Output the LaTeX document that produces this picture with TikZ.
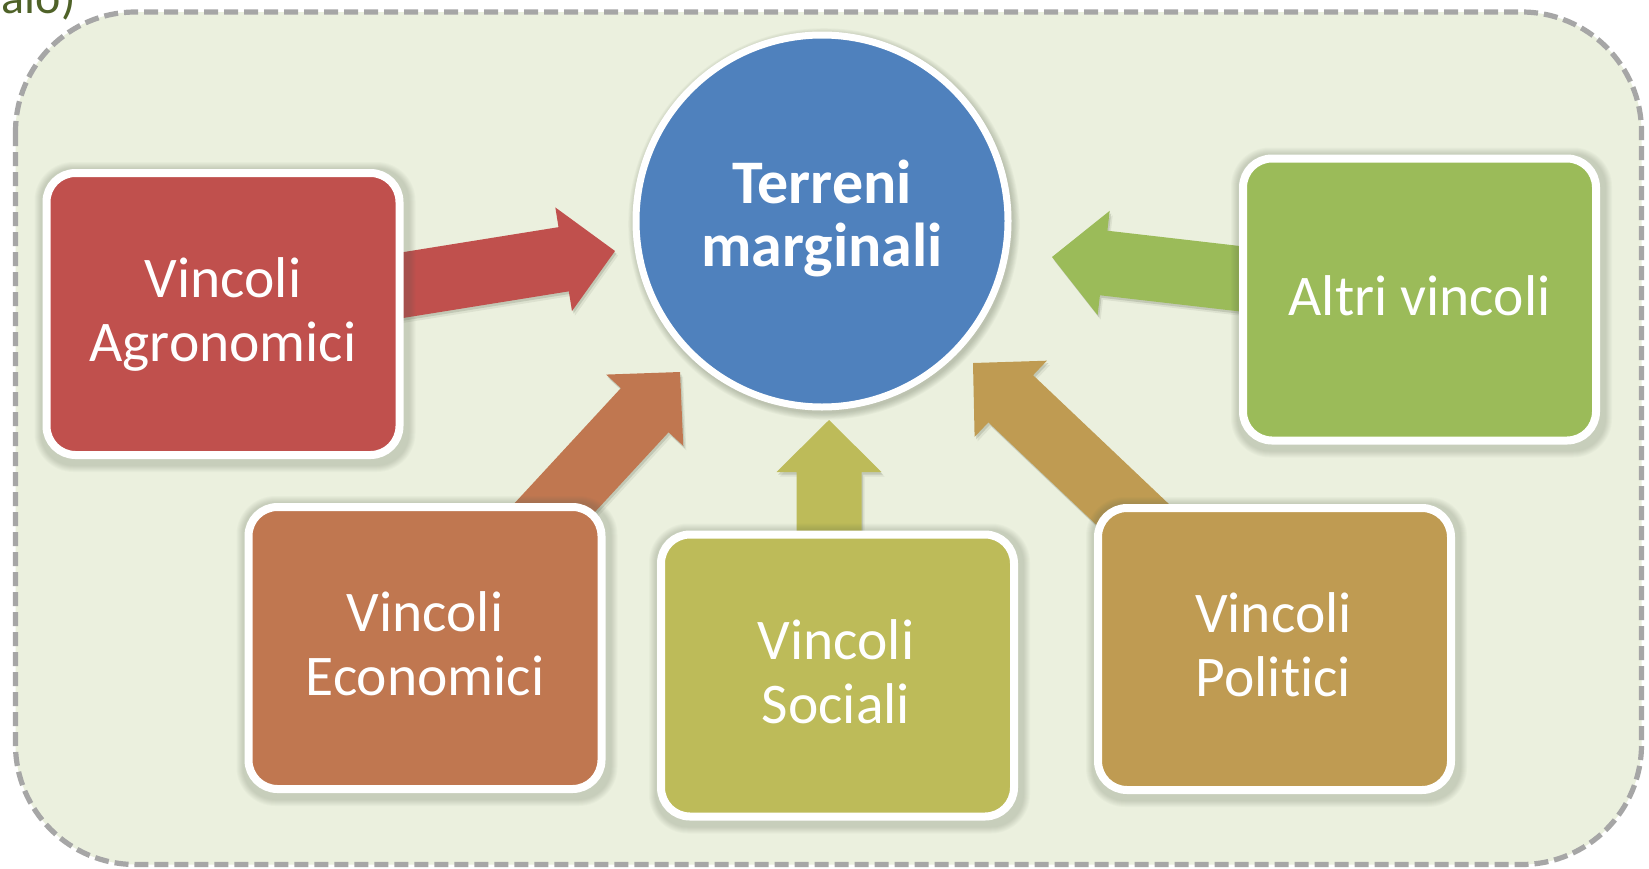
\documentclass[tikz,border=0pt]{standalone}
\usepackage{fontspec}
\setmainfont{Carlito}[RawFeature=-liga]
\usetikzlibrary{calc}
\definecolor{bgfill}{RGB}{235,240,222}
\definecolor{frameg}{RGB}{166,166,166}
\definecolor{cred}{RGB}{192,80,77}
\definecolor{cblue}{RGB}{79,129,189}
\definecolor{cgreen}{RGB}{155,187,89}
\definecolor{corange}{RGB}{192,119,80}
\definecolor{colive}{RGB}{189,187,89}
\definecolor{cgold}{RGB}{191,155,82}
\definecolor{ctitle}{RGB}{79,98,40}
\definecolor{shadowc}{RGB}{90,100,80}
\pgfdeclarelayer{back}
\pgfdeclarelayer{mid}
\pgfsetlayers{back,mid,main}
\newcommand{\arrfill}[4]{% options, id, start, tip
  \fill[#1] ($(#3)!32.5pt!90:(#4)$) -- ($(hb#2)!32.5pt!90:(#4)$)
    -- ($(hb#2)!52.5pt!90:(#4)$) -- (#4) -- ($(hb#2)!52.5pt!-90:(#4)$)
    -- ($(hb#2)!32.5pt!-90:(#4)$) -- ($(#3)!32.5pt!-90:(#4)$) -- cycle;
}
\newcommand{\blockarrow}[4]{% id, start, tip, colour
  \coordinate (hb#1) at ($(#3)!52pt!(#2)$);
  \begin{scope}[transform canvas={xshift=1.5pt,yshift=-2.5pt}]
    \arrfill{shadowc,opacity=0.20}{#1}{#2}{#3}
  \end{scope}
  \begin{scope}[transform canvas={xshift=3pt,yshift=-4.5pt}]
    \arrfill{shadowc,opacity=0.10}{#1}{#2}{#3}
  \end{scope}
  \arrfill{#4}{#1}{#2}{#3}
}
\newcommand{\boxshadow}[1]{%
  \foreach \k in {0,...,6}
    \fill[shadowc, opacity=0.035, rounded corners={33pt+\k pt}]
      ($(#1.north west)+(-2-\k,-1-\k)$) rectangle ($(#1.south east)+(6+\k,7+\k)$);
}
\tikzset{
  vbox/.style={rectangle, rounded corners=29pt, draw=white, line width=8pt,
      minimum width=353pt, minimum height=282pt, inner sep=0pt},
  lbl/.style={text=white, font=\fontsize{57.5}{64}\selectfont, anchor=base, inner sep=0pt},
  ttl/.style={text=white, font=\fontsize{62}{63}\selectfont\bfseries, anchor=base, inner sep=0pt},
}
\begin{document}
\begin{tikzpicture}[x=1pt,y=-1pt]
\useasboundingbox (0,0) rectangle (1649,868);
\begin{pgfonlayer}{back}
  \fill[white] (0,0) rectangle (1649,868);
  \draw[frameg, line width=5.2pt, dash pattern=on 14pt off 6pt, fill=bgfill, rounded corners=120pt]
    (15.5,12) rectangle (1641.5,864.5);
\end{pgfonlayer}
\begin{scope}
  \clip (0,0) rectangle (1649,868);
  \node[anchor=base east, text=ctitle, font=\fontsize{48}{50}\selectfont, inner sep=0pt] (hdr) at (76,13) {alo)};
\end{scope}

% central circle
\node[circle, fill=cblue, draw=white, line width=7pt, minimum size=372pt, inner sep=0pt] (tm) at (822,221) {};
\node[ttl] (tm1) at ($(tm)+(0,-18)$) {Terreni};
\node[ttl] (tm2) at ($(tm)+(0,45)$) {marginali};

% boxes
\node[vbox, fill=cred] (agro) at (223,314) {};
\node[lbl] (agro1) at ($(agro)+(0,-16.5)$) {Vincoli};
\node[lbl] (agro2) at ($(agro)+(0,47.5)$) {Agronomici};

\node[vbox, fill=cgreen] (altri) at (1419.5,299.5) {};
\node[lbl] (altri1) at ($(altri)+(0,15.5)$) {Altri vincoli};

\node[vbox, fill=corange] (econ) at (425,648) {};
\node[lbl] (econ1) at ($(econ)+(0,-16.5)$) {Vincoli};
\node[lbl] (econ2) at ($(econ)+(0,47.5)$) {Economici};

\node[vbox, fill=colive] (soc) at (837.5,675.5) {};
\node[lbl] (soc1) at ($(soc)+(-1.5,-16.5)$) {Vincoli};
\node[lbl] (soc2) at ($(soc)+(-1.5,47.5)$) {Sociali};

\node[vbox, fill=cgold] (pol) at (1274.5,649) {};
\node[lbl] (pol1) at ($(pol)+(-1,-16.5)$) {Vincoli};
\node[lbl] (pol2) at ($(pol)+(-1,47.5)$) {Politici};

% arrow tips
\coordinate (tipA) at (615,251);
\coordinate (tipB) at (1052,257);
\coordinate (tipC) at (680,372);
\coordinate (tipD) at (829,420);
\coordinate (tipE) at (973,363);
\coordinate (socs) at ($(soc.center)+(-8.5,0)$);

\begin{pgfonlayer}{mid}
  % soft shadow of the circle
  \foreach \k in {0,...,7}
    \fill[shadowc, opacity=0.045] ($(tm.center)+(2,3)$) circle ({189.5+\k*0.9});
  \blockarrow{A}{agro.center}{tipA}{cred}
  \blockarrow{B}{altri.center}{tipB}{cgreen}
  \blockarrow{C}{econ.center}{tipC}{corange}
  \blockarrow{D}{socs}{tipD}{colive}
  \blockarrow{E}{pol.center}{tipE}{cgold}
  \boxshadow{agro}
  \boxshadow{altri}
  \boxshadow{econ}
  \boxshadow{soc}
  \boxshadow{pol}
\end{pgfonlayer}
\end{tikzpicture}
\end{document}
